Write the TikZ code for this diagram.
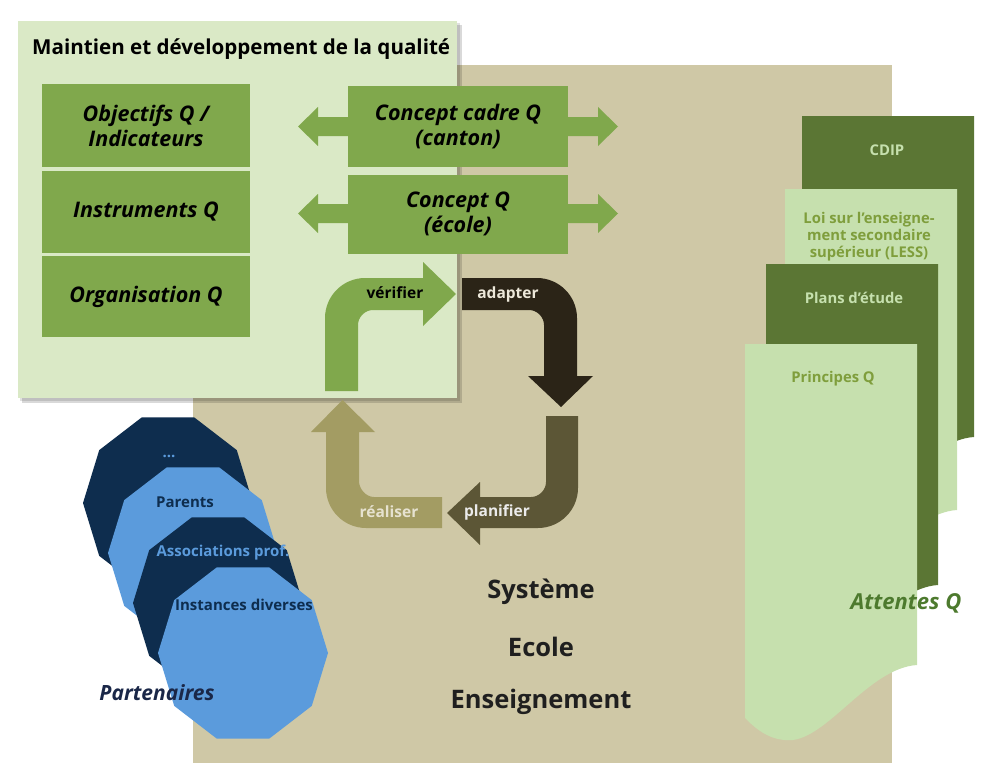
\documentclass[tikz,border=0pt]{standalone}
\usepackage{fontspec}
\setmainfont{Open Sans}
\definecolor{bgbeige}{HTML}{CFC8A6}
\definecolor{lgreen}{HTML}{DAE9C6}
\definecolor{qgreen}{HTML}{80A84C}
\definecolor{dgreen}{HTML}{5B7634}
\definecolor{pgreen}{HTML}{C6E0AE}
\definecolor{ogreen}{HTML}{7F9E3C}
\definecolor{agreen}{HTML}{4D7A2E}
\definecolor{navy}{HTML}{0E2D4E}
\definecolor{lblue}{HTML}{5B9BDC}
\definecolor{cadapt}{HTML}{2B2417}
\definecolor{cplan}{HTML}{5C5636}
\definecolor{creal}{HTML}{A39C63}
\definecolor{lblreal}{HTML}{E6E2D0}
\definecolor{lbladapt}{HTML}{EDE8DA}
\definecolor{ptxt}{HTML}{1A2748}
\newcommand{\docshape}[3]{%
  \begin{scope}[shift={(#1,#2)}]
    \fill[#3] (0,0) -- (172,0) -- (172,321) .. controls (125,324) and (85,391) .. (48,396)
      .. controls (25,398) and (10,384) .. (0,374) -- cycle;
  \end{scope}}
\newcommand{\decagon}[3]{%
  \fill[#3,shift={(#1,#2)}] (0:85pt and 90pt)
    \foreach \a in {36,72,...,324}{ -- (\a:85pt and 90pt)} -- cycle;}
\begin{document}
\begin{tikzpicture}[x=1pt,y=-1pt,
  every node/.style={inner sep=0pt, align=center},
  gbox/.style={fill=qgreen, font=\fontsize{21.5}{25}\selectfont\bfseries\itshape, text=black},
  cyclbl/.style={font=\fontsize{15.5}{18}\selectfont\bfseries},
  doclbl/.style={font=\fontsize{14.8}{17}\selectfont\bfseries},
  partlbl/.style={font=\fontsize{15}{16}\selectfont\bfseries},
  biglbl/.style={font=\fontsize{25.5}{28}\selectfont\bfseries, text=black!88}]
\useasboundingbox (0,0) rectangle (994,784);
% background
\fill[bgbeige] (193,65) rectangle (892,763);
% main box with shadow
\fill[black,opacity=0.15] (22,25) rectangle (462,403);
\fill[black,opacity=0.12] (20,23) rectangle (460,401);
\fill[lgreen] (18,21) rectangle (457,398);
\node[anchor=base west, font=\fontsize{20.6}{25}\selectfont\bfseries] (title) at (32,55) {Maintien et développement de la qualité};
% left boxes
\node[gbox, minimum width=208pt, minimum height=83pt] (obj) at (146,125.5) {Objectifs Q /\\Indicateurs};
\node[gbox, minimum width=208pt, minimum height=82pt] (ins) at (146,212) {Instruments Q};
\node[gbox, minimum width=208pt, minimum height=81pt] (org) at (146,296.5) {Organisation Q};
% double arrows
\fill[qgreen] (298,126.5) -- (318,107) -- (318,117) -- (598,117) -- (598,107) -- (618,126.5)
  -- (598,146) -- (598,136) -- (318,136) -- (318,146) -- cycle;
\fill[qgreen] (298,213.5) -- (318,194) -- (318,204) -- (598,204) -- (598,194) -- (618,213.5)
  -- (598,233) -- (598,223) -- (318,223) -- (318,233) -- cycle;
\node[gbox, minimum width=220pt, minimum height=80pt] (cc) at (458,126.5) {Concept cadre Q\\(canton)};
\node[gbox, minimum width=220pt, minimum height=79pt] (cq) at (458,214) {Concept Q\\(école)};
% cycle arrows
\fill[qgreen] (325,391) -- (325,318) .. controls (325,296) and (343,278) .. (365,278) -- (423,278)
  -- (423,262) -- (456,294) -- (423,326) -- (423,310) -- (373,310)
  .. controls (365,310) and (358,317) .. (358,325) -- (358,391) -- cycle;
\fill[cadapt] (462,278) -- (537,278) .. controls (559,278) and (577,296) .. (577,318) -- (577,376)
  -- (593,376) -- (561,407) -- (528,376) -- (544,376) -- (544,325)
  .. controls (544,317) and (537,310) .. (529,310) -- (462,310) -- cycle;
\fill[cplan] (546,416) -- (578,416) -- (578,488) .. controls (578,510) and (560,528) .. (538,528)
  -- (480,528) -- (480,545) -- (447,513) -- (480,482) -- (480,497) -- (531,497)
  .. controls (539,497) and (546,490) .. (546,482) -- cycle;
\fill[creal] (442,497) -- (442,528) -- (366,528) .. controls (344,528) and (326,510) .. (326,488)
  -- (326,432) -- (311,432) -- (342.5,400) -- (375,432) -- (359,432) -- (359,481)
  .. controls (359,489) and (366,497) .. (374,497) -- cycle;
\node[cyclbl, text=black] (verif) at (395,293) {vérifier};
\node[cyclbl, text=lbladapt] (adapt) at (508,294) {adapter};
\node[cyclbl, text=white!92!black] (plan) at (497,512) {planifier};
\node[cyclbl, text=lblreal] (real) at (389,512) {réaliser};
% documents
\docshape{802}{116}{dgreen}
\docshape{785}{189}{pgreen}
\docshape{766}{264}{dgreen}
\docshape{745}{344}{pgreen}
\node[doclbl, text=pgreen] (cdip) at (887,150) {CDIP};
\node[doclbl, text=ogreen] (less) at (869,237) {Loi sur l'enseigne-\\ment secondaire\\supérieur (LESS)};
\node[doclbl, text=pgreen] (plans) at (854,298) {Plans d'étude};
\node[doclbl, text=ogreen] (princ) at (833,379) {Principes Q};
\node[font=\fontsize{22}{25}\selectfont\bfseries\itshape, text=agreen] (att) at (906,603) {Attentes Q};
% partners
\decagon{168}{503}{navy}
\decagon{193}{553}{lblue}
\decagon{218}{603}{navy}
\decagon{243}{653}{lblue}
\node[partlbl, text=lblue] (dots) at (169,456) {...};
\node[partlbl, text=navy] (par) at (185,502) {Parents};
\node[partlbl, text=lblue] (assoc) at (223,553) {Associations prof.};
\node[partlbl, text=navy] (inst) at (244,605) {Instances diverses};
\node[font=\fontsize{21}{24}\selectfont\bfseries\itshape, text=ptxt] (part) at (157,693) {Partenaires};
% centre texts
\node[biglbl] (sys) at (541,592) {Système};
\node[biglbl] (eco) at (541,647) {Ecole};
\node[biglbl] (ens) at (541,702) {Enseignement};
\end{tikzpicture}
\end{document}
